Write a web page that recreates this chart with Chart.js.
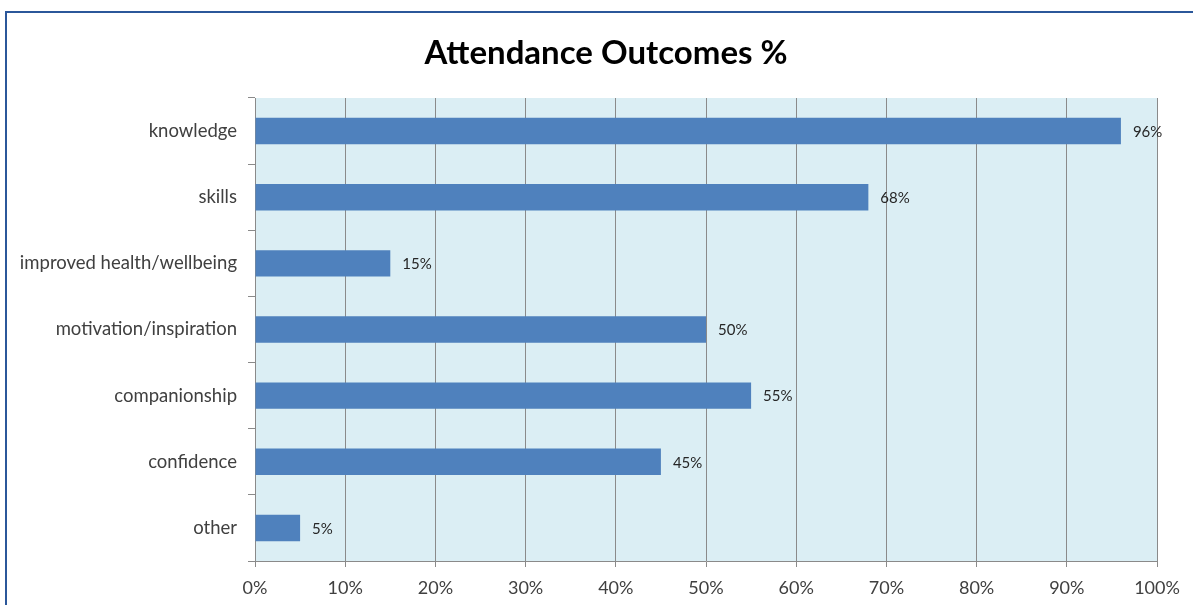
<!DOCTYPE html>
<html lang="en">
<head>
    <meta charset="UTF-8">
    <title>Attendance Outcomes %</title>
    <style>
        body {
            margin: 0;
            padding: 0;
            background-color: #fff;
            overflow: hidden;
        }

        .frame {
            position: absolute;
            left: 5px;
            top: 11px;
            width: 1300px;
            height: 700px;
            border: 2px solid #2b579a;
        }

        .wrap {
            position: absolute;
            left: 0;
            top: 0;
            width: 1193px;
            height: 605px;
        }
    </style>
</head>
<body>
    <div class="frame"></div>
    <div class="wrap">
        <canvas id="barChart" width="1193" height="605"></canvas>
    </div>

    <script src="https://cdn.jsdelivr.net/npm/chart.js"></script>
    <script>
        // chart data
        const chartTitle = 'Attendance Outcomes %';
        const categories = ['knowledge', 'skills', 'improved health/wellbeing', 'motivation/inspiration', 'companionship', 'confidence', 'other'];
        const percentValues = [96, 68, 15, 50, 55, 45, 5];
        const xTicks = [0, 10, 20, 30, 40, 50, 60, 70, 80, 90, 100];

        const fontName = 'Lato, sans-serif';

        // light blue plot area behind the bars
        const plotBackground = {
            id: 'plotBackground',
            beforeDraw(chart) {
                const { ctx, chartArea } = chart;
                ctx.save();
                ctx.fillStyle = '#dbeef4';
                ctx.fillRect(chartArea.left, chartArea.top, chartArea.right - chartArea.left, chartArea.bottom - chartArea.top);
                ctx.restore();
            }
        };

        // title centred on the whole frame, not just the chart box
        const frameTitle = {
            id: 'frameTitle',
            afterDraw(chart) {
                const { ctx } = chart;
                ctx.save();
                ctx.font = 'bold 33px ' + fontName;
                ctx.fillStyle = '#000';
                ctx.textAlign = 'center';
                ctx.textBaseline = 'middle';
                ctx.fillText(chartTitle, 606, 53);
                ctx.restore();
            }
        };

        // percentage labels at the end of each bar
        const barLabels = {
            id: 'barLabels',
            afterDatasetsDraw(chart) {
                const { ctx } = chart;
                const meta = chart.getDatasetMeta(0);
                ctx.save();
                ctx.font = '15px ' + fontName;
                ctx.fillStyle = '#262626';
                ctx.textAlign = 'left';
                ctx.textBaseline = 'middle';
                meta.data.forEach((bar, i) => {
                    ctx.fillText(percentValues[i] + '%', bar.x + 12, bar.y + 1);
                });
                ctx.restore();
            }
        };

        const ctx = document.getElementById('barChart').getContext('2d');
        new Chart(ctx, {
            type: 'bar',
            data: {
                labels: categories,
                datasets: [{
                    data: percentValues,
                    backgroundColor: '#4f81bd',
                    barPercentage: 0.4,
                    categoryPercentage: 1
                }]
            },
            options: {
                indexAxis: 'y',
                responsive: false,
                animation: false,
                layout: { padding: { left: 0, right: 36, top: 98, bottom: 0 } },
                plugins: {
                    legend: { display: false },
                    tooltip: { enabled: false },
                    title: { display: false }
                },
                scales: {
                    x: {
                        min: 0,
                        max: 100,
                        afterBuildTicks(scale) {
                            scale.ticks = xTicks.map(v => ({ value: v }));
                        },
                        afterFit(scale) {
                            scale.height = 44;
                        },
                        ticks: {
                            color: '#404040',
                            font: { family: fontName, size: 18 },
                            padding: 10,
                            callback: v => v + '%'
                        },
                        grid: {
                            color: '#8a8a8a',
                            lineWidth: 1,
                            tickLength: 6
                        },
                        border: { color: '#8a8a8a', width: 1 }
                    },
                    y: {
                        afterFit(scale) {
                            scale.width = 255;
                        },
                        ticks: {
                            color: '#404040',
                            font: { family: fontName, size: 18.5 },
                            padding: 11
                        },
                        grid: {
                            offset: true,
                            drawOnChartArea: false,
                            drawTicks: true,
                            tickLength: 7,
                            color: '#8a8a8a'
                        },
                        border: { color: '#8a8a8a', width: 1 }
                    }
                }
            },
            plugins: [plotBackground, barLabels, frameTitle]
        });
    </script>
</body>
</html>
